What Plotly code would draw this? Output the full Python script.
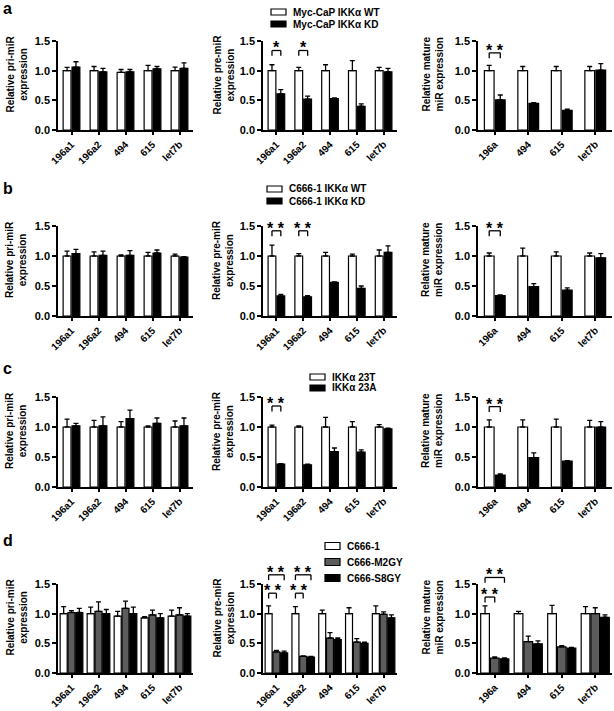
import plotly.graph_objects as go

FIG_W, FIG_H = 614, 711
FONT = "Liberation Sans, Arial, sans-serif"

# ---------------- categories / labels ----------------
pri_cats = ["196a1", "196a2", "494", "615", "let7b"]
pre_cats = ["196a1", "196a2", "494", "615", "let7b"]
mat_cats = ["196a", "494", "615", "let7b"]
row_labels = ["a", "b", "c", "d"]
y_titles = ["Relative pri-miR<br>expression",
            "Relative pre-miR<br>expression",
            "Relative mature<br>miR expression"]
y_ticks = [0.0, 0.5, 1.0, 1.5]
Y_MAX = 1.5

# ---------------- row a ----------------
a_names = ["Myc-CaP IKKα WT", "Myc-CaP IKKα KD"]
a_pri_wt = [1.00, 1.00, 0.97, 1.00, 1.00]
a_pri_wt_err = [0.055, 0.07, 0.05, 0.09, 0.06]
a_pri_kd = [1.06, 0.98, 0.98, 1.03, 1.04]
a_pri_kd_err = [0.09, 0.06, 0.04, 0.04, 0.09]
a_pre_wt = [1.00, 1.00, 1.00, 1.00, 1.00]
a_pre_wt_err = [0.10, 0.055, 0.10, 0.17, 0.055]
a_pre_kd = [0.61, 0.52, 0.53, 0.40, 0.98]
a_pre_kd_err = [0.07, 0.05, 0.01, 0.04, 0.06]
a_mat_wt = [1.00, 1.00, 1.00, 1.00]
a_mat_wt_err = [0.09, 0.07, 0.07, 0.07]
a_mat_kd = [0.51, 0.45, 0.33, 1.01]
a_mat_kd_err = [0.08, 0.01, 0.02, 0.11]

# ---------------- row b ----------------
b_names = ["C666-1 IKKα WT", "C666-1 IKKα KD"]
b_pri_wt = [1.00, 1.00, 1.00, 1.00, 1.00]
b_pri_wt_err = [0.08, 0.07, 0.02, 0.06, 0.03]
b_pri_kd = [1.04, 1.01, 1.01, 1.05, 0.98]
b_pri_kd_err = [0.07, 0.07, 0.08, 0.05, 0.01]
b_pre_wt = [1.00, 1.00, 1.00, 1.00, 1.00]
b_pre_wt_err = [0.18, 0.04, 0.06, 0.03, 0.10]
b_pre_kd = [0.335, 0.32, 0.56, 0.46, 1.06]
b_pre_kd_err = [0.025, 0.02, 0.01, 0.04, 0.11]
b_mat_wt = [1.00, 1.00, 1.00, 1.00]
b_mat_wt_err = [0.05, 0.13, 0.07, 0.05]
b_mat_kd = [0.34, 0.49, 0.43, 0.97]
b_mat_kd_err = [0.01, 0.05, 0.04, 0.07]

# ---------------- row c ----------------
c_names = ["IKKα 23T", "IKKα 23A"]
c_pri_wt = [1.00, 1.00, 1.00, 1.00, 1.00]
c_pri_wt_err = [0.13, 0.11, 0.09, 0.02, 0.10]
c_pri_kd = [1.02, 1.02, 1.14, 1.06, 1.02]
c_pri_kd_err = [0.04, 0.15, 0.14, 0.09, 0.13]
c_pre_wt = [1.00, 1.00, 1.00, 1.00, 1.00]
c_pre_wt_err = [0.03, 0.02, 0.16, 0.09, 0.04]
c_pre_kd = [0.38, 0.37, 0.59, 0.58, 0.97]
c_pre_kd_err = [0.01, 0.01, 0.06, 0.04, 0.01]
c_mat_wt = [1.00, 1.00, 1.00, 1.00]
c_mat_wt_err = [0.12, 0.12, 0.13, 0.11]
c_mat_kd = [0.20, 0.49, 0.43, 1.00]
c_mat_kd_err = [0.02, 0.08, 0.01, 0.09]

# ---------------- row d ----------------
d_names = ["C666-1", "C666-M2GY", "C666-S8GY"]
d_pri_c1 = [1.00, 1.00, 0.96, 0.93, 0.96]
d_pri_c1_err = [0.12, 0.11, 0.08, 0.02, 0.10]
d_pri_m2 = [1.02, 1.04, 1.09, 0.98, 0.98]
d_pri_m2_err = [0.03, 0.16, 0.12, 0.08, 0.12]
d_pri_s8 = [1.02, 1.00, 1.00, 0.93, 0.96]
d_pri_s8_err = [0.07, 0.07, 0.11, 0.07, 0.04]
d_pre_c1 = [1.00, 1.00, 1.00, 1.00, 1.00]
d_pre_c1_err = [0.13, 0.12, 0.06, 0.10, 0.13]
d_pre_m2 = [0.355, 0.28, 0.59, 0.52, 0.99]
d_pre_m2_err = [0.025, 0.01, 0.09, 0.06, 0.04]
d_pre_s8 = [0.34, 0.27, 0.565, 0.50, 0.93]
d_pre_s8_err = [0.03, 0.01, 0.025, 0.02, 0.05]
d_mat_c1 = [1.00, 1.00, 1.00, 1.00]
d_mat_c1_err = [0.13, 0.04, 0.14, 0.12]
d_mat_m2 = [0.25, 0.53, 0.44, 1.00]
d_mat_m2_err = [0.02, 0.09, 0.02, 0.10]
d_mat_s8 = [0.24, 0.49, 0.42, 0.94]
d_mat_s8_err = [0.015, 0.05, 0.01, 0.04]

# significance: (row, col, category index, series i, series j, bracket height, label)
sig_marks = [
    (0, 1, 0, 0, 1, 1.34, "*"), (0, 1, 1, 0, 1, 1.34, "*"),
    (0, 2, 0, 0, 1, 1.30, "* *"),
    (1, 1, 0, 0, 1, 1.42, "* *"), (1, 1, 1, 0, 1, 1.42, "* *"),
    (1, 2, 0, 0, 1, 1.42, "* *"),
    (2, 1, 0, 0, 1, 1.35, "* *"), (2, 2, 0, 0, 1, 1.34, "* *"),
    (3, 1, 0, 0, 1, 1.345, "* *"), (3, 1, 0, 0, 2, 1.655, "* *"),
    (3, 1, 1, 0, 1, 1.345, "* *"), (3, 1, 1, 0, 2, 1.655, "* *"),
    (3, 2, 0, 0, 1, 1.28, "* *"), (3, 2, 0, 0, 2, 1.61, "* *"),
]

# ---------------- assemble ----------------
WHITE, GRAY, BLACK = "#ffffff", "#5c5c5c", "#000000"
rows = [
    (a_names, [WHITE, BLACK], [
        (pri_cats, [(a_pri_wt, a_pri_wt_err), (a_pri_kd, a_pri_kd_err)]),
        (pre_cats, [(a_pre_wt, a_pre_wt_err), (a_pre_kd, a_pre_kd_err)]),
        (mat_cats, [(a_mat_wt, a_mat_wt_err), (a_mat_kd, a_mat_kd_err)])]),
    (b_names, [WHITE, BLACK], [
        (pri_cats, [(b_pri_wt, b_pri_wt_err), (b_pri_kd, b_pri_kd_err)]),
        (pre_cats, [(b_pre_wt, b_pre_wt_err), (b_pre_kd, b_pre_kd_err)]),
        (mat_cats, [(b_mat_wt, b_mat_wt_err), (b_mat_kd, b_mat_kd_err)])]),
    (c_names, [WHITE, BLACK], [
        (pri_cats, [(c_pri_wt, c_pri_wt_err), (c_pri_kd, c_pri_kd_err)]),
        (pre_cats, [(c_pre_wt, c_pre_wt_err), (c_pre_kd, c_pre_kd_err)]),
        (mat_cats, [(c_mat_wt, c_mat_wt_err), (c_mat_kd, c_mat_kd_err)])]),
    (d_names, [WHITE, GRAY, BLACK], [
        (pri_cats, [(d_pri_c1, d_pri_c1_err), (d_pri_m2, d_pri_m2_err), (d_pri_s8, d_pri_s8_err)]),
        (pre_cats, [(d_pre_c1, d_pre_c1_err), (d_pre_m2, d_pre_m2_err), (d_pre_s8, d_pre_s8_err)]),
        (mat_cats, [(d_mat_c1, d_mat_c1_err), (d_mat_m2, d_mat_m2_err), (d_mat_s8, d_mat_s8_err)])]),
]

# layout geometry in pixels
col_px = [(58, 193), (263, 397), (478, 612)]
row_px = [(41, 130), (226, 316), (397, 487), (584, 673)]  # (top, bottom)
title_x_px = [16, 223, 432]
row_label_px = [(1, 9), (1, 189), (1, 368), (1, 540)]
legend_px = [(271, 12, 12), (267, 189, 12), (310, 377, 11), (325, 546, 16)]


def px2x(p):
    return p / FIG_W


def px2y(p):
    return 1 - p / FIG_H


def bar_geom(n_series):
    if n_series == 2:
        w, slot = 0.29, 0.33
    else:
        w, slot = 0.26, 0.29
    group = slot * n_series
    offs = [-group / 2 + i * slot + (slot - w) / 2 for i in range(n_series)]
    return w, offs


fig = go.Figure()
layout = dict(width=FIG_W, height=FIG_H, autosize=False,
              margin=dict(l=0, r=0, t=0, b=0, pad=0, autoexpand=False),
              paper_bgcolor="white", plot_bgcolor="white",
              barmode="overlay", showlegend=False,
              font=dict(family=FONT, color="black"))
shapes, annotations = [], []

for r, (names, colors, panels) in enumerate(rows):
    top, bot = row_px[r]
    for c, (cats, series) in enumerate(panels):
        idx = r * 3 + c + 1
        xid = "x" if idx == 1 else f"x{idx}"
        yid = "y" if idx == 1 else f"y{idx}"
        w, offs = bar_geom(len(series))
        for s, (vals, errs) in enumerate(series):
            fig.add_trace(go.Bar(
                x=cats, y=vals, xaxis=xid, yaxis=yid, name=names[s],
                width=w, offset=offs[s],
                marker=dict(color=colors[s], line=dict(color="black", width=1.2)),
                error_y=dict(type="data", array=errs, arrayminus=[0] * len(errs),
                             symmetric=False, color="black", thickness=1.3, width=2.5),
                showlegend=False, hoverinfo="skip"))
        x0, x1 = col_px[c]
        layout["xaxis" if idx == 1 else f"xaxis{idx}"] = dict(
            domain=[px2x(x0), px2x(x1)], anchor=yid, type="category",
            range=[-0.5, len(cats) - 0.5], showline=True, linecolor="black",
            linewidth=1.5, ticks="outside", ticklen=3, tickwidth=1.5,
            tickcolor="black", tickangle=-45, showgrid=False, zeroline=False,
            automargin=False,
            tickfont=dict(family=FONT, size=10, color="black", weight="bold"),
            fixedrange=True)
        layout["yaxis" if idx == 1 else f"yaxis{idx}"] = dict(
            domain=[px2y(bot), px2y(top)], anchor=xid, range=[0, Y_MAX],
            tickvals=y_ticks, ticktext=[f"{v:.1f}" for v in y_ticks],
            showline=True, linecolor="black", linewidth=1.5, ticks="outside",
            ticklen=4, tickwidth=1.5, tickcolor="black", showgrid=False,
            zeroline=False, automargin=False,
            tickfont=dict(family=FONT, size=11, color="black", weight="bold"),
            fixedrange=True)
        # y-axis title
        annotations.append(dict(
            text=y_titles[c], xref="paper", yref="paper",
            x=px2x(title_x_px[c]), y=px2y((top + bot) / 2 - 11),
            xanchor="center", yanchor="middle", textangle=-90, showarrow=False,
            font=dict(family=FONT, size=10, color="black", weight="bold")))

    # row label
    lx, ly = row_label_px[r]
    annotations.append(dict(text=row_labels[r], xref="paper", yref="paper",
                            x=px2x(lx), y=px2y(ly), xanchor="left", yanchor="middle",
                            showarrow=False,
                            font=dict(family=FONT, size=16, color="black", weight="bold")))
    # legend
    bx, by, dy = legend_px[r]
    bh = 7 if len(names) == 3 else 6
    for s, nm in enumerate(names):
        cy = by + s * dy
        shapes.append(dict(type="rect", xref="paper", yref="paper",
                           x0=px2x(bx), x1=px2x(bx + 15),
                           y0=px2y(cy - bh / 2), y1=px2y(cy + bh / 2),
                           fillcolor=colors[s], line=dict(color="black", width=1.2)))
        annotations.append(dict(text=nm, xref="paper", yref="paper",
                                x=px2x(bx + 20), y=px2y(cy), xanchor="left",
                                yanchor="middle", showarrow=False,
                                font=dict(family=FONT, size=10, color="black",
                                          weight="bold")))

# significance brackets
for (r, c, k, i, j, h, lab) in sig_marks:
    idx = r * 3 + c + 1
    xid = "x" if idx == 1 else f"x{idx}"
    yid = "y" if idx == 1 else f"y{idx}"
    n_series = len(rows[r][2][c][1])
    w, offs = bar_geom(n_series)
    xa = k + offs[i] + w / 2
    xb = k + offs[j] + w / 2
    leg = 0.09
    ln = dict(color="black", width=1.3)
    for (xx0, yy0, xx1, yy1) in [(xa, h, xb, h), (xa, h, xa, h - leg), (xb, h, xb, h - leg)]:
        shapes.append(dict(type="line", xref=xid, yref=f"{yid} domain",
                           x0=xx0, x1=xx1, y0=yy0 / Y_MAX, y1=yy1 / Y_MAX, line=ln))
    annotations.append(dict(text=lab, xref=xid, yref=f"{yid} domain",
                            x=(xa + xb) / 2, y=(h + 0.11) / Y_MAX,
                            xanchor="center", yanchor="middle", yshift=-4,
                            showarrow=False,
                            font=dict(family=FONT, size=16, color="black", weight="bold")))

layout["shapes"] = shapes
layout["annotations"] = annotations
fig.update_layout(**layout)
fig.write_html("out.html", config={"displayModeBar": False},
               post_script="document.body.style.margin='0';document.body.style.padding='0';")
